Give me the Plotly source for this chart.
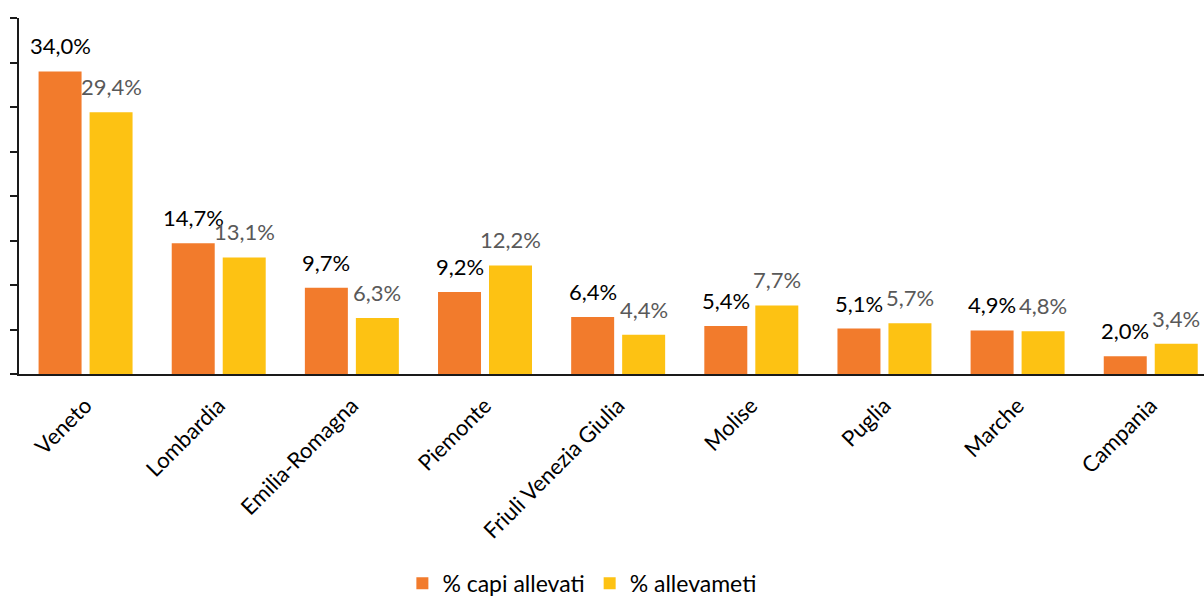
import plotly.graph_objects as go

regioni = ["Veneto", "Lombardia", "Emilia-Romagna", "Piemonte", "Friuli Venezia Giulia",
           "Molise", "Puglia", "Marche", "Campania"]
capi_allevati = [34.0, 14.7, 9.7, 9.2, 6.4, 5.4, 5.1, 4.9, 2.0]
allevamenti = [29.4, 13.1, 6.3, 12.2, 4.4, 7.7, 5.7, 4.8, 3.4]


def fmt(v):
    return f"{v:.1f}".replace(".", ",") + "%"


FONT = "Lato, Calibri, Carlito, sans-serif"
LABEL_SIZE = 22
BAR_SHIFT = 25.5  # horizontal offset of each bar centre from its category centre (px)

fig = go.Figure()
fig.add_trace(go.Bar(
    name="% capi allevati", x=regioni, y=capi_allevati,
    marker=dict(color="#F27B2C", line=dict(width=0)),
))
fig.add_trace(go.Bar(
    name="% allevameti", x=regioni, y=allevamenti,
    marker=dict(color="#FDC213", line=dict(width=0)),
))

# value labels above each bar
for series, sign, color in ((capi_allevati, -1, "#000000"), (allevamenti, 1, "#595959")):
    for reg, v in zip(regioni, series):
        fig.add_annotation(
            x=reg, y=v, text=fmt(v), showarrow=False,
            xanchor="center", yanchor="bottom",
            xshift=sign * BAR_SHIFT, yshift=10,
            font=dict(family=FONT, size=LABEL_SIZE, color=color),
        )

fig.update_layout(
    width=1204, height=598,
    margin=dict(l=19, r=0, t=18, b=224, autoexpand=False),
    paper_bgcolor="white", plot_bgcolor="white",
    barmode="group", bargap=0.234, bargroupgap=0.157,
    font=dict(family=FONT, size=22, color="#000000"),
    legend=dict(orientation="h", x=0.475, xanchor="center",
                y=-0.588, yanchor="middle",
                font=dict(family=FONT, size=23, color="#000000"),
                itemwidth=30, traceorder="normal"),
    showlegend=True,
)
fig.update_xaxes(
    range=[-0.5, 8.4],
    showline=True, linecolor="#1a1a1a", linewidth=2, ticks="",
    tickangle=-45, tickfont=dict(family=FONT, size=22, color="#000000"),
    ticklabelstandoff=8,
    showgrid=False, automargin=False,
)
fig.update_yaxes(
    range=[0, 40], dtick=5, showticklabels=False, showgrid=False, zeroline=False,
    showline=True, linecolor="#1a1a1a", linewidth=2, automargin=False,
    ticks="outside", ticklen=7, tickwidth=2, tickcolor="#1a1a1a",
)

fig.write_html("out.html")
